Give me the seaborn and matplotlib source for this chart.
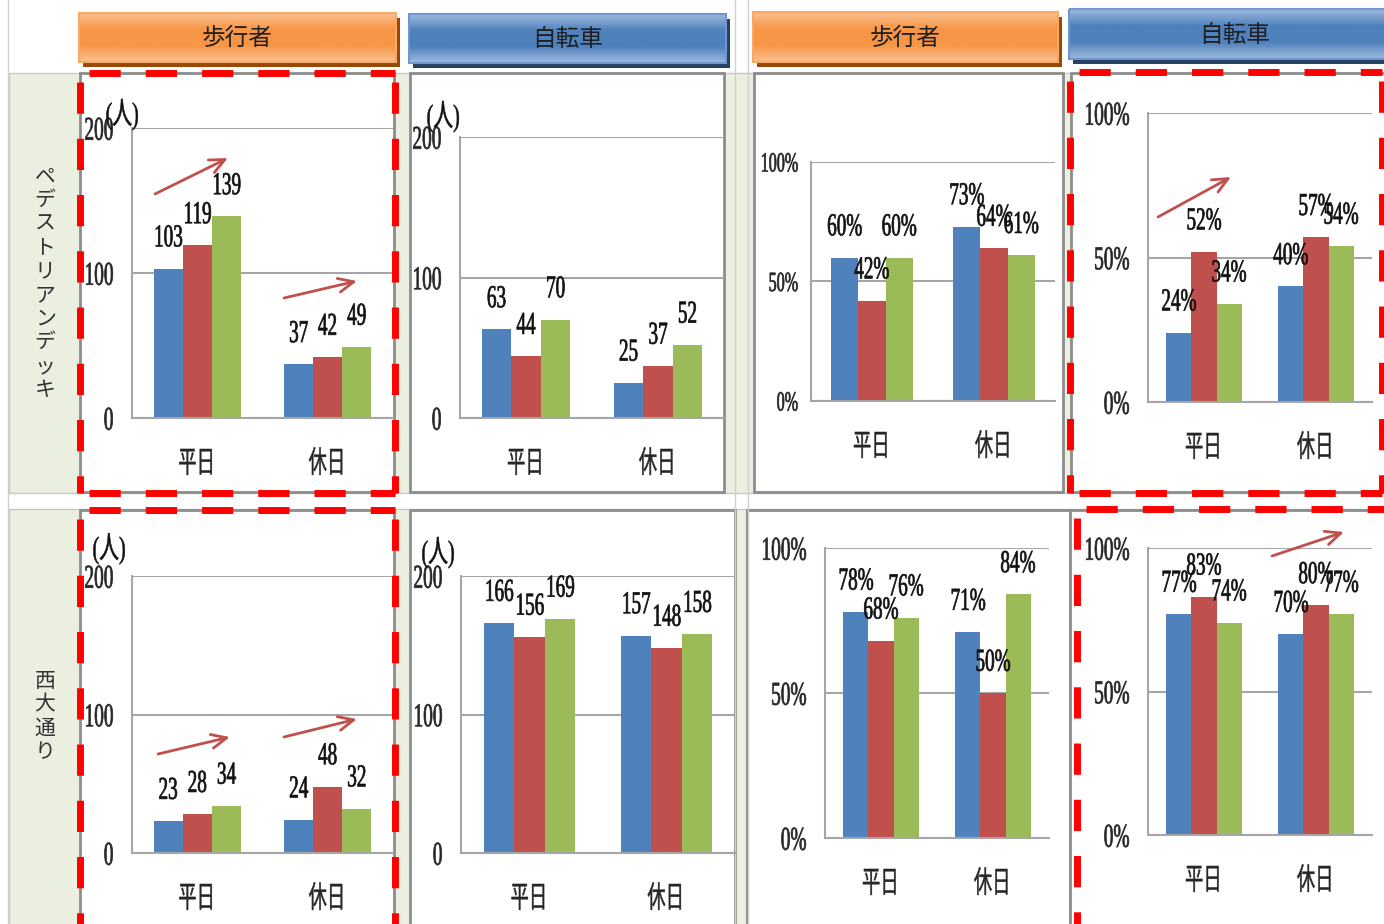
import numpy as np
import pandas as pd
import seaborn as sns
import matplotlib.pyplot as plt
from matplotlib.patches import Rectangle
from matplotlib.colors import LinearSegmentedColormap
from matplotlib.patheffects import AbstractPathEffect
from matplotlib.transforms import Affine2D

W, H = 1384, 924

# データ: 平日(1,2,3回目), 休日(1,2,3回目)
days = ['平日', '休日']
rounds = ['1回目', '2回目', '3回目']
colors = ['#4F81BD', '#C0504D', '#9BBB59']

deck_walk_n = [103, 119, 139, 37, 42, 49]
deck_bike_n = [63, 44, 70, 25, 37, 52]
deck_walk_pct = [60, 42, 60, 73, 64, 61]
deck_bike_pct = [24, 52, 34, 40, 57, 54]
nishi_walk_n = [23, 28, 34, 24, 48, 32]
nishi_bike_n = [166, 156, 169, 157, 148, 158]
nishi_walk_pct = [78, 68, 76, 71, 50, 84]
nishi_bike_pct = [77, 83, 74, 70, 80, 77]

row_labels = ['ペデストリアンデッキ', '西大通り']
col_labels = ['歩行者', '自転車', '歩行者', '自転車']
count_ticks = [0, 100, 200]
pct_ticks = [0, 50, 100]


class Squeeze(AbstractPathEffect):
    # 文字を横に縮める (元の図の長体フォントに近づける)
    def __init__(self, sx=0.6, anchor=0.5, stroke=0.0):
        super().__init__()
        self.sx = sx
        self.anchor = anchor
        self.stroke = stroke

    def draw_path(self, renderer, gc, tpath, affine, rgbFace=None):
        if len(tpath.vertices) == 0:
            return
        ext = tpath.get_extents()
        cx = ext.x0 + self.anchor * ext.width
        t = Affine2D().translate(-cx, 0).scale(self.sx, 1).translate(cx, 0) + affine
        gc0 = renderer.new_gc()
        gc0.copy_properties(gc)
        gc0.set_linewidth(self.stroke)
        renderer.draw_path(gc0, tpath, t, rgbFace)
        gc0.restore()


sns.set_style('white')
NUM = ['Liberation Serif', 'Noto Sans CJK JP']
JP = ['Noto Sans CJK JP', 'DejaVu Sans']
plt.rcParams['font.family'] = NUM

fig = plt.figure(figsize=(W / 100, H / 100), dpi=100)
fig.patch.set_facecolor('white')


def frac(x0, y0, x1, y1):
    return [x0 / W, 1 - y1 / H, (x1 - x0) / W, (y1 - y0) / H]


bg = fig.add_axes([0, 0, 1, 1], zorder=0)
bg.set_autoscale_on(False)
bg.set_xlim(0, W)
bg.set_ylim(H, 0)
bg.axis('off')

# 表の背景
for y0, y1 in [(73, 493), (509, 940)]:
    bg.add_patch(Rectangle((9, y0), W, y1 - y0, fc='#EBEFE0', ec='#C8C8C8', lw=1))
for x in [8, 735, 748]:
    bg.plot([x, x], [0, H], color='#D0D0D0', lw=1)

frames = [(80, 73, 394, 492), (410, 73, 724, 492), (754, 73, 1063, 492), (1071, 73, 1400, 492),
          (80, 510, 394, 940), (410, 510, 735, 940), (747, 510, 1070, 940), (1070, 510, 1400, 940)]
for x0, y0, x1, y1 in frames:
    bg.add_patch(Rectangle((x0, y0), x1 - x0, y1 - y0, fc='white', ec='#8C8C8C', lw=2))

# 見出しボックス
headers = [(79, 13, 396, 62), (409, 14, 726, 63), (753, 12, 1058, 62), (1069, 9, 1400, 59)]
orange = ('#FAC090', '#F79646', '#984807', '#F8A867')
blue = ('#9DB9DC', '#4F81BD', '#254061', '#6F97C9')
grad = np.linspace(0, 1, 64).reshape(-1, 1)
for (x0, y0, x1, y1), text in zip(headers, col_labels):
    light, mid, shadow, edge = orange if text == '歩行者' else blue
    bg.add_patch(Rectangle((x0 + 4, y0 + 5), x1 - x0, y1 - y0, fc=shadow, ec='none', zorder=1))
    cmap = LinearSegmentedColormap.from_list('hdr', [light, mid, mid, light])
    bg.imshow(grad, cmap=cmap, extent=[x0, x1, y1, y0], aspect='auto', zorder=2)
    bg.add_patch(Rectangle((x0, y0), x1 - x0, y1 - y0, fc='none', ec=edge, lw=1.5, zorder=3))
    bg.text((x0 + x1) / 2, (y0 + y1) / 2 + 1, text, ha='center', va='center',
            fontsize=17, family=JP, color='#1F1F1F', zorder=4)

# 行見出し (縦書き)
for (y0, y1), text in zip([(73, 493), (509, 924)], row_labels):
    bg.text(45, (y0 + y1) / 2, '\n'.join(text), ha='center', va='center',
            fontsize=15, family=JP, color='#333333', linespacing=1.1)


def panel(rect, values, pct, tick_size=24, tick_pad=13, unit_pos=None):
    ax = fig.add_axes(frac(*rect), zorder=2)
    ax.set_facecolor('none')
    df = pd.DataFrame({'day': np.repeat(days, 3), 'round': np.tile(rounds, 2), 'value': values})
    sns.barplot(data=df, x='day', y='value', hue='round', palette=colors, width=0.67,
                saturation=1, gap=0, errorbar=None, legend=False, linewidth=0,
                edgecolor='none', ax=ax)
    ax.set_xlim(-0.5, 1.5)
    ticks = pct_ticks if pct else count_ticks
    ax.set_ylim(0, ticks[-1])
    ax.set_yticks(ticks)
    ax.set_yticklabels([f'{t}%' if pct else str(t) for t in ticks], fontsize=tick_size, family=NUM)
    for t in ax.get_yticklabels():
        t.set_path_effects([Squeeze(0.58, 1.0, 0.5)])
    ax.set_xticks([0, 1])
    ax.set_xticklabels(days, fontsize=22, family=JP)
    for t in ax.get_xticklabels():
        t.set_path_effects([Squeeze(0.6, 0.5, 0.3)])
    ax.tick_params(axis='x', length=0, pad=22)
    ax.tick_params(axis='y', length=0, pad=tick_pad)
    ax.set_xlabel('')
    ax.set_ylabel('')
    ax.yaxis.grid(True, color='#A6A6A6', lw=1.5)
    ax.xaxis.grid(False)
    ax.set_axisbelow(True)
    for s in ['top', 'right']:
        ax.spines[s].set_visible(False)
    for s in ['left', 'bottom']:
        ax.spines[s].set_color('#A6A6A6')
        ax.spines[s].set_linewidth(1.5)
    for i, cont in enumerate(ax.containers):
        labels = [f'{values[d * 3 + i]}%' if pct else str(values[d * 3 + i]) for d in range(2)]
        texts = ax.bar_label(cont, labels=labels, padding=11, fontsize=23, family=NUM, color='#111111')
        for t in texts:
            t.set_path_effects([Squeeze(0.6, 0.5, 0.5)])
    if unit_pos is not None:
        t = ax.text(unit_pos[0], unit_pos[1], '(人)', transform=ax.transAxes, ha='center',
                    va='center', fontsize=22, family=NUM, color='#111111')
        t.set_path_effects([Squeeze(0.65, 0.5, 0.4)])
    return ax


panel((132, 128, 393, 418), deck_walk_n, False, unit_pos=(-0.038, 1.045))
panel((460, 137, 724, 418), deck_bike_n, False, unit_pos=(-0.064, 1.071))
panel((811, 162, 1055, 401), deck_walk_pct, True, tick_size=20, tick_pad=9)
panel((1148, 113, 1372, 402), deck_bike_pct, True)
panel((132, 576, 393, 853), nishi_walk_n, False, unit_pos=(-0.088, 1.097))
panel((461, 576, 735, 853), nishi_bike_n, False, unit_pos=(-0.084, 1.083))
panel((825, 548, 1049, 838), nishi_walk_pct, True)
panel((1148, 548, 1372, 835), nishi_bike_pct, True)

# 赤い破線枠と増加の矢印
ov = fig.add_axes([0, 0, 1, 1], zorder=5)
ov.set_autoscale_on(False)
ov.set_xlim(0, W)
ov.set_ylim(H, 0)
ov.axis('off')


def dashed_box(x0, y0, x1, y1):
    for xs, ys in [([x0, x1], [y0, y0]), ([x1, x1], [y0, y1]),
                   ([x0, x1], [y1, y1]), ([x0, x0], [y0, y1])]:
        ov.plot(xs, ys, color='#FF0000', lw=5, linestyle=(6.8, (4.5, 3.6)),
                dash_capstyle='butt', clip_on=False)


dashed_box(80, 73, 395, 493)
dashed_box(1070, 72, 1382, 493)
dashed_box(80, 510, 395, 960)
dashed_box(1077, 509, 1400, 960)

arrows = [((155, 194), (228, 158)), ((284, 298), (357, 281)), ((1158, 217), (1231, 177)),
          ((158, 754), (230, 737)), ((284, 737), (357, 719)), ((1272, 556), (1344, 532))]
for (xa, ya), (xb, yb) in arrows:
    ov.annotate('', xy=(xb, yb), xytext=(xa, ya),
                arrowprops=dict(arrowstyle='->,head_length=1.1,head_width=0.5',
                                color='#C0504D', lw=2, shrinkA=0, shrinkB=0))

fig.savefig('out.png', dpi=100)
